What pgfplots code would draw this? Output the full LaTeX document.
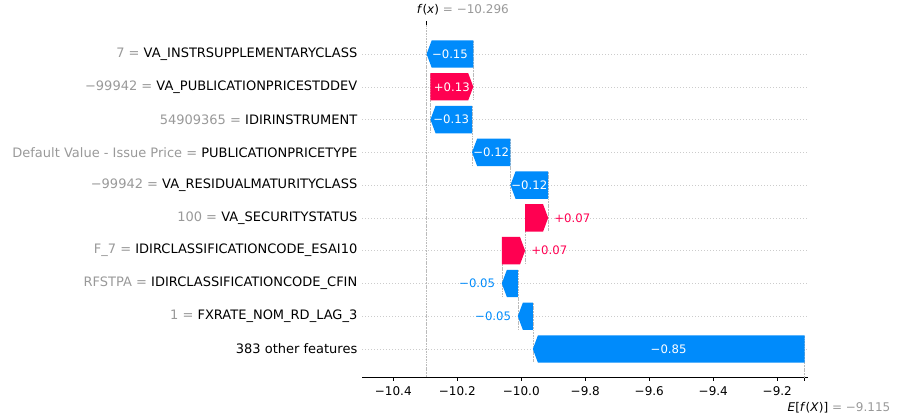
\documentclass[border=0pt]{standalone}
\usepackage{pgfplots}
\pgfplotsset{compat=1.18}
\usepackage{fontspec}
\setmainfont{DejaVu Sans}
\definecolor{shapblue}{HTML}{008BFB}
\definecolor{shapred}{HTML}{FF0051}
\definecolor{shapgrey}{HTML}{999999}
\definecolor{lineA}{HTML}{BBBBBB}
\definecolor{lineB}{HTML}{CCCCCC}
\newcommand\gv[1]{\textcolor{shapgrey}{#1}}
\tikzset{lab/.style={inner sep=0pt, font=\fontsize{11.7}{13}\selectfont}}
\pgfplotsset{conn/.style={lineA, line width=0.5pt, dash pattern=on 1.85pt off 0.8pt, forget plot},
  nb/.style={fill=shapblue, draw=none, forget plot}, pb/.style={fill=shapred, draw=none, forget plot}}
\begin{document}
\begin{tikzpicture}
\useasboundingbox (0,0) rectangle (910pt,419pt);
\begin{axis}[
  at={(362pt,41.7pt)}, anchor=south west,
  scale only axis, width=446pt, height=352.3pt,
  xmin=-10.4978, xmax=-9.1041,
  ymin=0.115, ymax=10.863, y dir=reverse,
  clip mode=individual,
  axis x line*=bottom, axis y line*=left,
  y axis line style={draw=none},
  x axis line style={line width=0.8pt,-},
  xtick={-10.4,-10.2,-10.0,-9.8,-9.6,-9.4,-9.2},
  xticklabels={−10.4,−10.2,−10.0,−9.8,−9.6,−9.4,−9.2},
  extra x ticks={-9.115}, extra x tick labels={},
  extra x tick style={grid=none},
  tick align=outside,
  xtick style={black, line width=0.8pt}, major tick length=3.5pt,
  ytick={1,2,3,4,5,6,7,8,9,10},
  ytick style={draw=none},
  yticklabels={
    {\gv{7 = }VA\_INSTRSUPPLEMENTARYCLASS},
    {\gv{−99942 = }VA\_PUBLICATIONPRICESTDDEV},
    {\gv{54909365 = }IDIRINSTRUMENT},
    {\gv{Default Value - Issue Price = }PUBLICATIONPRICETYPE},
    {\gv{−99942 = }VA\_RESIDUALMATURITYCLASS},
    {\gv{100 = }VA\_SECURITYSTATUS},
    {\gv{F\_7 = }IDIRCLASSIFICATIONCODE\_ESAI10},
    {\gv{RFSTPA = }IDIRCLASSIFICATIONCODE\_CFIN},
    {\gv{1 = }FXRATE\_NOM\_RD\_LAG\_3},
    {383 other features}},
  ymajorgrids,
  grid style={lineB, line width=0.5pt, dash pattern=on 0.5pt off 2.5pt},
  xticklabel style={font=\fontsize{12}{14}\selectfont, inner sep=0pt, anchor=north, yshift=-6pt},
  yticklabel style={font=\fontsize{13}{15}\selectfont, inner sep=0pt, anchor=east, xshift=-1pt},
]
% connector lines
\addplot[conn] coordinates {(-10.296,0.115) (-10.296,10.863)};
\addplot[conn] coordinates {(-10.150,0.6) (-10.150,2.4)};
\addplot[conn] coordinates {(-10.284,1.6) (-10.284,3.4)};
\addplot[conn] coordinates {(-10.154,2.6) (-10.154,4.4)};
\addplot[conn] coordinates {(-10.034,3.6) (-10.034,5.4)};
\addplot[conn] coordinates {(-9.916,4.6) (-9.916,6.4)};
\addplot[conn] coordinates {(-9.988,5.6) (-9.988,7.4)};
\addplot[conn] coordinates {(-10.061,6.6) (-10.061,8.4)};
\addplot[conn] coordinates {(-10.011,7.6) (-10.011,9.4)};
\addplot[conn] coordinates {(-9.964,8.6) (-9.964,10.4)};
\addplot[conn] coordinates {(-9.115,9.6) (-9.115,11.4)};
% bars
\addplot[nb] coordinates {(-10.150,0.582) (-10.280,0.582) (-10.296,1) (-10.280,1.418) (-10.150,1.418)} --cycle;
\addplot[pb] coordinates {(-10.284,1.582) (-10.166,1.582) (-10.150,2) (-10.166,2.418) (-10.284,2.418)} --cycle;
\addplot[nb] coordinates {(-10.154,2.582) (-10.268,2.582) (-10.284,3) (-10.268,3.418) (-10.154,3.418)} --cycle;
\addplot[nb] coordinates {(-10.034,3.582) (-10.138,3.582) (-10.154,4) (-10.138,4.418) (-10.034,4.418)} --cycle;
\addplot[nb] coordinates {(-9.916,4.582) (-10.018,4.582) (-10.034,5) (-10.018,5.418) (-9.916,5.418)} --cycle;
\addplot[pb] coordinates {(-9.988,5.582) (-9.932,5.582) (-9.916,6) (-9.932,6.418) (-9.988,6.418)} --cycle;
\addplot[pb] coordinates {(-10.061,6.582) (-10.004,6.582) (-9.988,7) (-10.004,7.418) (-10.061,7.418)} --cycle;
\addplot[nb] coordinates {(-10.011,7.582) (-10.045,7.582) (-10.061,8) (-10.045,8.418) (-10.011,8.418)} --cycle;
\addplot[nb] coordinates {(-9.964,8.582) (-9.995,8.582) (-10.011,9) (-9.995,9.418) (-9.964,9.418)} --cycle;
\addplot[nb] coordinates {(-9.115,9.582) (-9.948,9.582) (-9.964,10) (-9.948,10.418) (-9.115,10.418)} --cycle;
% bar labels
\node[lab, white] at (axis cs:-10.223,1) {−0.15};
\node[lab, white] at (axis cs:-10.217,2) {+0.13};
\node[lab, white] at (axis cs:-10.219,3) {−0.13};
\node[lab, white] at (axis cs:-10.094,4) {−0.12};
\node[lab, white] at (axis cs:-9.975,5) {−0.12};
\node[lab, white] at (axis cs:-9.5395,10) {−0.85};
\node[lab, shapred, anchor=west, xshift=6pt] at (axis cs:-9.916,6) {+0.07};
\node[lab, shapred, anchor=west, xshift=6pt] at (axis cs:-9.988,7) {+0.07};
\node[lab, shapblue, anchor=east, xshift=-6.5pt] at (axis cs:-10.061,8) {−0.05};
\node[lab, shapblue, anchor=east, xshift=-6.5pt] at (axis cs:-10.011,9) {−0.05};
% f(x) and E[f(X)]
\draw[black, line width=0.8pt] (axis cs:-10.296,0.115) -- ([yshift=3.5pt]axis cs:-10.296,0.115);
\node[anchor=west, inner sep=0pt, xshift=-10pt, yshift=15pt, font=\fontsize{12}{14}\selectfont] at (axis cs:-10.296,0.115) {\textit{f}(\textit{x}) \gv{= −10.296}};
\node[anchor=west, inner sep=0pt, xshift=-17pt, yshift=-30pt, font=\fontsize{12}{14}\selectfont] at (axis cs:-9.115,10.863) {\textit{E}[\textit{f}(\textit{X})] \gv{= −9.115}};
\end{axis}
\end{tikzpicture}
\end{document}
